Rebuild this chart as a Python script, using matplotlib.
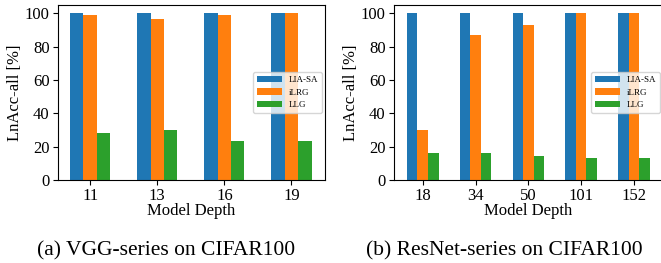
import matplotlib
matplotlib.use("Agg")
import matplotlib.pyplot as plt
import numpy as np

plt.rcParams['font.family'] = ['Liberation Serif', 'DejaVu Serif']
plt.rcParams['mathtext.fontset'] = 'stix'

series = ['LIA-SA', 'iLRG', 'LLG']
colors = ['#1f77b4', '#ff7f0e', '#2ca02c']

vgg_depths = ['11', '13', '16', '19']
vgg_lia = [100, 100, 100, 100]
vgg_ilrg = [99, 96.7, 99, 100]
vgg_llg = [28.2, 30, 23.4, 23.4]

res_depths = ['18', '34', '50', '101', '152']
res_lia = [100, 100, 100, 100, 100]
res_ilrg = [30, 87, 93, 100, 100]
res_llg = [16.2, 16.2, 14.4, 13.2, 13.2]

fig = plt.figure(figsize=(6.61, 2.63), dpi=100)
W, H = 661, 263

def px_axes(x0, x1, ytop, ybot):
    return fig.add_axes([x0 / W, 1 - ybot / H, (x1 - x0) / W, (ybot - ytop) / H])

ax1 = px_axes(58, 325, 5, 180)
ax2 = px_axes(394, 663, 5, 180)

def draw(ax, depths, vals, xlim):
    x = np.arange(len(depths))
    w = 0.2
    for i, (v, c, s) in enumerate(zip(vals, colors, series)):
        ax.bar(x + (i - 1) * w, v, width=w, color=c, label=s)
    ax.set_xticks(x)
    ax.set_xticklabels(depths)
    ax.set_xlim(*xlim)
    ax.set_ylim(0, 105)
    ax.set_yticks([0, 20, 40, 60, 80, 100])
    ax.tick_params(labelsize=12, pad=2.5)
    ax.set_xlabel('Model Depth', fontsize=12, labelpad=-1)
    ax.set_ylabel('LnAcc-all [%]', fontsize=12, labelpad=1)
    ax.legend(loc='center right', fontsize=6.5, handlelength=2.8, borderaxespad=0.3)

draw(ax1, vgg_depths, [vgg_lia, vgg_ilrg, vgg_llg], (-0.48, 3.5))
draw(ax2, res_depths, [res_lia, res_ilrg, res_llg], (-0.545, 4.55))

fig.text(166 / W, 1 - 251 / H, '(a) VGG-series on CIFAR100', ha='center', va='center', fontsize=15.5)
fig.text(504 / W, 1 - 251 / H, '(b) ResNet-series on CIFAR100', ha='center', va='center', fontsize=15.5)

fig.savefig('out.png', dpi=100)
